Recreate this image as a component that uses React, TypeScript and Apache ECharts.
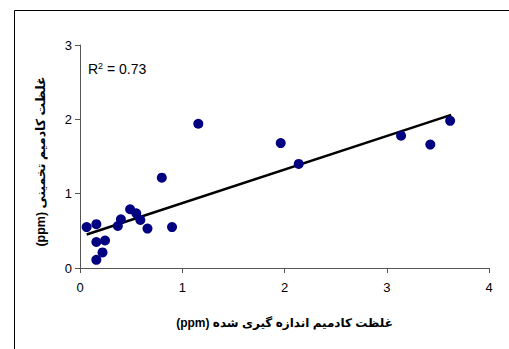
import React, { useEffect, useRef } from "react";
import * as echarts from "echarts";

const measured = [0.065, 0.16, 0.16, 0.16, 0.22, 0.245, 0.37, 0.4, 0.49, 0.55, 0.59, 0.66, 0.8, 0.9, 1.157, 1.963, 2.139, 3.14, 3.426, 3.62];
const estimated = [0.55, 0.59, 0.35, 0.11, 0.21, 0.37, 0.565, 0.655, 0.79, 0.735, 0.646, 0.53, 1.215, 0.55, 1.94, 1.68, 1.4, 1.78, 1.66, 1.98];
const trendX = [0.065, 3.63];
const trendY = [0.45, 2.06];
const xTitle = "(ppm) غلظت کادمیم اندازه گیری شده";
const yTitle = "(ppm) غلظت کادمیم تخمینی";
const r2Label = "R{sup|2} = 0.73";

export default function App() {
  const ref = useRef<HTMLDivElement>(null);
  useEffect(() => {
    if (!ref.current) return;
    const chart = echarts.init(ref.current, null, { renderer: "svg" });
    const font = "'Liberation Sans', Arial, 'DejaVu Sans', sans-serif";
    chart.setOption({
      animation: false,
      backgroundColor: "#fff",
      textStyle: { fontFamily: font },
      title: {
        text: r2Label,
        left: 83,
        top: 56,
        textStyle: {
          fontSize: 14,
          fontWeight: "normal",
          color: "#000",
          fontFamily: font,
          rich: { sup: { fontSize: 9, verticalAlign: "top", padding: [0, 0, 6, 0], color: "#000", fontFamily: font } },
        },
      },
      graphic: [
        {
          type: "rect",
          shape: { x: 14.5, y: 10.5, width: 700, height: 500 },
          style: { fill: "none", stroke: "#000", lineWidth: 1 },
          silent: true,
        },
      ],
      grid: { left: 80, right: 20, top: 45, bottom: 81 },
      xAxis: {
        type: "value",
        min: 0,
        max: 4,
        interval: 1,
        name: xTitle,
        nameLocation: "middle",
        nameGap: 49,
        nameTextStyle: { fontSize: 12, fontWeight: "bold", color: "#000", fontFamily: font },
        axisLine: { show: true, onZero: false, lineStyle: { color: "#555", width: 1 } },
        axisTick: { show: true, length: 5, lineStyle: { color: "#555" } },
        axisLabel: { fontSize: 13, color: "#000", margin: 13, fontFamily: font },
        splitLine: { show: false },
      },
      yAxis: {
        type: "value",
        min: 0,
        max: 3,
        interval: 1,
        name: yTitle,
        nameLocation: "middle",
        nameGap: 33,
        nameRotate: 90,
        nameTextStyle: { fontSize: 12.5, fontWeight: "bold", color: "#000", fontFamily: font, padding: [0, 10, 0, 0] },
        axisLine: { show: true, onZero: false, lineStyle: { color: "#555", width: 1 } },
        axisTick: { show: true, length: 5, lineStyle: { color: "#555" } },
        axisLabel: { fontSize: 13, color: "#000", margin: 8, fontFamily: font },
        splitLine: { show: false },
      },
      series: [
        {
          type: "line",
          data: trendX.map((x, i) => [x, trendY[i]]),
          showSymbol: false,
          symbol: "none",
          lineStyle: { color: "#000", width: 2.5 },
          silent: true,
          z: 2,
        },
        {
          type: "scatter",
          data: measured.map((x, i) => [x, estimated[i]]),
          symbol: "circle",
          symbolSize: 10,
          itemStyle: { color: "#000080", opacity: 1 },
          z: 3,
        },
      ],
    });
    return () => chart.dispose();
  }, []);
  return <div ref={ref} style={{ position: "fixed", left: 0, top: 0, width: 509, height: 349 }} />;
}
